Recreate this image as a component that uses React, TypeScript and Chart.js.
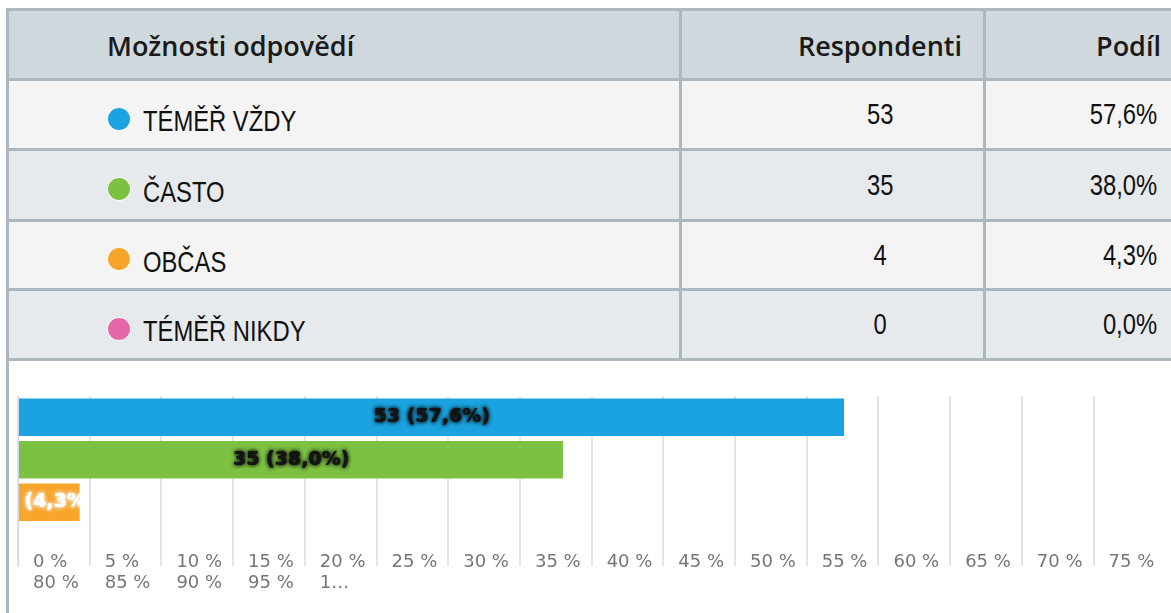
import React, { useEffect, useRef } from "react";
import { Chart, registerables } from "chart.js";

Chart.register(...registerables);

// ---------- data ----------
const headers = ["Možnosti odpovědí", "Respondenti", "Podíl"];
const categories = ["TÉMĚŘ VŽDY", "ČASTO", "OBČAS", "TÉMĚŘ NIKDY"];
const respondents = [53, 35, 4, 0];
const shares = [57.6, 38.0, 4.3, 0.0];
const shareLabels = ["57,6%", "38,0%", "4,3%", "0,0%"];
const barLabels = ["53 (57,6%)", "35 (38,0%)", "4 (4,3%)", ""];
const seriesColors = ["#1aa3e0", "#7dc143", "#f8a52c", "#e467a8"];
const barLabelColors = ["#141414", "#141414", "#ffffff", "#ffffff"];
const xTickLine1 = ["0 %", "5 %", "10 %", "15 %", "20 %", "25 %", "30 %", "35 %", "40 %", "45 %", "50 %", "55 %", "60 %", "65 %", "70 %", "75 %"];
const xTickLine2 = ["80 %", "85 %", "90 %", "95 %", "1…"];
const xMax = 80.4;
const xStep = 5;

// ---------- styles ----------
const BORDER = "#abb8bf";
const HEADER_BG = "#cfd8dc";
const ROW_BG = ["#f4f4f4", "#e7eaec", "#f4f4f4", "#e7eaec"];
const rowLines = [8, 78, 148, 219, 288, 358];
const LINE_W = 3;

const barLabelPlugin = {
  id: "barLabels",
  afterDatasetsDraw(chart: any) {
    const ctx = chart.ctx;
    const meta = chart.getDatasetMeta(0);
    meta.data.forEach((bar: any, i: number) => {
      const text = barLabels[i];
      if (!text) return;
      const p = bar.getProps(["x", "y", "base", "height"], true);
      const left = Math.min(p.x, p.base);
      const right = Math.max(p.x, p.base);
      if (right - left < 1) return;
      ctx.save();
      ctx.beginPath();
      ctx.rect(left, p.y - p.height / 2, right - left, p.height);
      ctx.clip();
      ctx.font = 'bold 19px "DejaVu Sans", Verdana, sans-serif';
      ctx.textAlign = "center";
      ctx.textBaseline = "middle";
      ctx.fillStyle = barLabelColors[i];
      ctx.shadowColor = i < 2 ? "rgba(0,0,0,0.85)" : "rgba(255,255,255,0.9)";
      ctx.shadowBlur = 4;
      const cx = (left + right) / 2;
      ctx.fillText(text, cx, p.y);
      ctx.fillText(text, cx + 0.6, p.y);
      ctx.restore();
    });
  },
};

function BarChart() {
  const ref = useRef<HTMLCanvasElement>(null);
  useEffect(() => {
    if (!ref.current) return;
    const chart = new Chart(ref.current, {
      type: "bar",
      data: {
        labels: categories,
        datasets: [
          {
            data: shares,
            backgroundColor: seriesColors,
            borderWidth: 0,
            categoryPercentage: 1,
            barPercentage: 0.88,
          },
        ],
      },
      options: {
        indexAxis: "y",
        animation: false,
        responsive: false,
        maintainAspectRatio: false,
        layout: { padding: { top: 34, left: 0, right: 0, bottom: 0 } },
        plugins: { legend: { display: false }, tooltip: { enabled: false } },
        scales: {
          x: {
            min: 0,
            max: xMax,
            afterFit: (s: any) => {
              s.height = 47;
            },
            ticks: {
              stepSize: xStep,
              maxTicksLimit: 40,
              autoSkip: false,
              maxRotation: 0,
              minRotation: 0,
              mirror: true,
              align: "start",
              padding: -7,
              labelOffset: 15,
              color: "#767676",
              font: { family: '"DejaVu Sans", Verdana, sans-serif', size: 18, lineHeight: 1.15 },
              callback: (value: any) => {
                const v = Number(value);
                const k = Math.round(v / xStep);
                if (Math.abs(v - k * xStep) > 0.001 || k >= xTickLine1.length) return "";
                const l2 = xTickLine2[k];
                return l2 ? [xTickLine1[k], l2] : xTickLine1[k];
              },
            },
            grid: {
              color: (c: any) => (c.tick && c.tick.value > 77 ? "rgba(0,0,0,0)" : "#e4e4e4"),
              lineWidth: 2,
              drawTicks: false,
            },
            border: { display: false },
          },
          y: {
            afterFit: (s: any) => {
              s.width = 8;
            },
            ticks: { display: false },
            grid: { display: false, drawTicks: false },
            border: { display: true, color: "#cbd8e2", width: 1 },
          },
        },
      },
      plugins: [barLabelPlugin],
    } as any);
    return () => chart.destroy();
  }, []);
  return <canvas ref={ref} width={1161} height={251} style={{ display: "block", width: 1161, height: 251 }} />;
}

export default function App() {
  const headFont: React.CSSProperties = {
    fontFamily: '"Open Sans", sans-serif',
    fontWeight: 600,
    fontSize: 27,
    color: "#1a1a1a",
    whiteSpace: "nowrap",
  };
  const bodyFont: React.CSSProperties = {
    fontFamily: '"Liberation Sans", Arial, sans-serif',
    fontSize: 29,
    color: "#111",
    whiteSpace: "nowrap",
  };
  const cell = (top: number, height: number): React.CSSProperties => ({
    position: "absolute",
    top,
    height,
    display: "flex",
    alignItems: "center",
  });
  return (
    <div
      style={{
        position: "fixed",
        left: 0,
        top: 0,
        width: 1171,
        height: 613,
        overflow: "hidden",
        background: "#fff",
      }}
    >
      {/* header background */}
      <div style={{ position: "absolute", left: 7, top: rowLines[0], width: 1200, height: rowLines[1] - rowLines[0], background: HEADER_BG }} />
      {categories.map((_, i) => (
        <div
          key={"bg" + i}
          style={{
            position: "absolute",
            left: 7,
            top: rowLines[i + 1],
            width: 1200,
            height: rowLines[i + 2] - rowLines[i + 1],
            background: ROW_BG[i],
          }}
        />
      ))}
      {/* horizontal borders */}
      {rowLines.map((y, i) => (
        <div key={"h" + i} style={{ position: "absolute", left: 6, top: y, width: 1200, height: LINE_W, background: BORDER }} />
      ))}
      {/* vertical borders */}
      <div style={{ position: "absolute", left: 6, top: rowLines[0], width: LINE_W, height: 613, background: BORDER }} />
      <div style={{ position: "absolute", left: 679, top: rowLines[0], width: LINE_W, height: rowLines[5] - rowLines[0] + LINE_W, background: BORDER }} />
      <div style={{ position: "absolute", left: 983, top: rowLines[0], width: LINE_W, height: rowLines[5] - rowLines[0] + LINE_W, background: BORDER }} />

      {/* header text */}
      <div style={{ ...cell(rowLines[0] + LINE_W, 68), left: 107, ...headFont }}>{headers[0]}</div>
      <div style={{ ...cell(rowLines[0] + LINE_W, 68), left: 682, width: 280, justifyContent: "flex-end", ...headFont }}>{headers[1]}</div>
      <div style={{ ...cell(rowLines[0] + LINE_W, 68), left: 986, width: 175, justifyContent: "flex-end", ...headFont }}>{headers[2]}</div>

      {/* rows */}
      {categories.map((c, i) => {
        const top = rowLines[i + 1] + LINE_W;
        const h = rowLines[i + 2] - rowLines[i + 1] - LINE_W;
        return (
          <React.Fragment key={"r" + i}>
            <div
              style={{
                position: "absolute",
                left: 108,
                top: top + h / 2 - 11 + 4,
                width: 22,
                height: 22,
                borderRadius: "50%",
                background: seriesColors[i],
                boxShadow: "0 0 0 1px rgba(255,255,255,0.7)",
              }}
            />
            <div style={{ ...cell(top + 7, h), left: 143, ...bodyFont }}>
              <span style={{ display: "inline-block", transform: "scaleX(0.82)", transformOrigin: "left center" }}>{c}</span>
            </div>
            <div style={{ ...cell(top, h), left: 776, width: 208, justifyContent: "center", ...bodyFont }}>
              <span style={{ display: "inline-block", transform: "scaleX(0.82)", transformOrigin: "center center" }}>{respondents[i]}</span>
            </div>
            <div style={{ ...cell(top, h), left: 986, width: 171, justifyContent: "flex-end", ...bodyFont }}>
              <span style={{ display: "inline-block", transform: "scaleX(0.82)", transformOrigin: "right center" }}>{shareLabels[i]}</span>
            </div>
          </React.Fragment>
        );
      })}

      {/* chart */}
      <div style={{ position: "absolute", left: 10, top: 362 }}>
        <BarChart />
      </div>
    </div>
  );
}
